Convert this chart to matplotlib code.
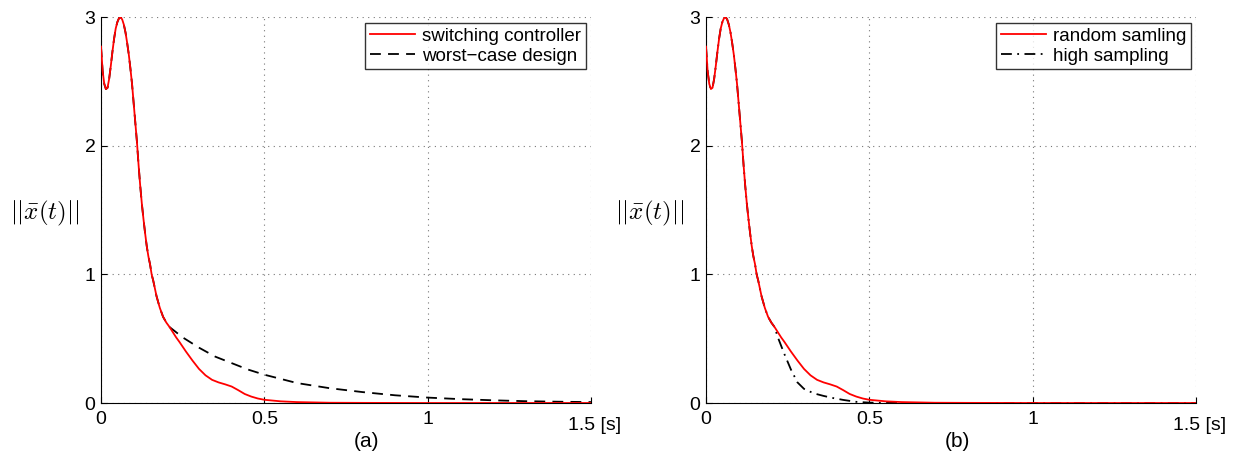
import matplotlib
matplotlib.use("Agg")
import matplotlib.pyplot as plt

plt.rcParams['font.family'] = ['Liberation Sans', 'DejaVu Sans']
plt.rcParams['mathtext.fontset'] = 'cm'

# shared initial transient
t_common = [0.0, 0.005, 0.01, 0.015, 0.02, 0.025, 0.03, 0.035, 0.04, 0.045, 0.05, 0.055,
            0.06, 0.065, 0.07, 0.075, 0.08, 0.085, 0.09, 0.095, 0.10, 0.105, 0.11, 0.115,
            0.12, 0.125, 0.13, 0.135, 0.14, 0.145, 0.15, 0.155, 0.16, 0.17, 0.18, 0.19,
            0.20, 0.21]
x_common = [2.77, 2.58, 2.48, 2.44, 2.45, 2.52, 2.62, 2.73, 2.83, 2.91, 2.96, 2.99,
            3.0, 2.98, 2.94, 2.88, 2.80, 2.71, 2.60, 2.48, 2.33, 2.18, 2.03, 1.85,
            1.69, 1.55, 1.43, 1.32, 1.22, 1.14, 1.08, 1.0, 0.95, 0.83, 0.74, 0.67,
            0.625, 0.59]

# switching controller / random sampling tail
t_switch = [0.22, 0.23, 0.24, 0.26, 0.28, 0.30, 0.32, 0.34, 0.36, 0.38, 0.40, 0.42, 0.44,
            0.46, 0.48, 0.50, 0.55, 0.60, 0.70, 0.80, 1.0, 1.5]
x_switch = [0.55, 0.51, 0.475, 0.40, 0.33, 0.265, 0.215, 0.18, 0.16, 0.145, 0.128, 0.10, 0.07,
            0.05, 0.035, 0.025, 0.013, 0.007, 0.002, 0.001, 0.0, 0.0]

# worst-case design tail
t_worst = [0.25, 0.30, 0.35, 0.40, 0.45, 0.50, 0.60, 0.70, 0.80, 0.90, 1.0, 1.1,
           1.2, 1.3, 1.4, 1.5]
x_worst = [0.51, 0.43, 0.36, 0.31, 0.26, 0.22, 0.155, 0.115, 0.085, 0.06, 0.042, 0.03,
           0.021, 0.014, 0.010, 0.007]

# high sampling tail
t_high = [0.22, 0.24, 0.26, 0.28, 0.30, 0.33, 0.36, 0.39, 0.42, 0.46, 0.50, 0.60, 1.5]
x_high = [0.51, 0.38, 0.26, 0.16, 0.11, 0.075, 0.055, 0.038, 0.024, 0.009, 0.003, 0.0, 0.0]

xticks = [0, 0.5, 1, 1.5]
xticklabels = ['0', '0.5', '1', '']
yticks = [0, 1, 2, 3]

fig = plt.figure(figsize=(12.34, 4.55), dpi=100)
W, H = 1234, 455
axes_px = [(101, 591), (706, 1196)]
top, bot = 17, 403

panels = [
    dict(other_t=t_worst, other_x=x_worst, other_ls=(0, (6, 4)), red_label='switching controller',
         other_label='worst\u2212case design', cap='(a)', capx=0.541),
    dict(other_t=t_high, other_x=x_high, other_ls=(0, (6, 3, 1, 3)), red_label='random samling',
         other_label='high sampling', cap='(b)', capx=0.514),
]

for (l, r), p in zip(axes_px, panels):
    ax = fig.add_axes([l / W, (H - bot) / H, (r - l) / W, (bot - top) / H])
    ax.plot(t_common + p['other_t'], x_common + p['other_x'], color='black', lw=1.3,
            linestyle=p['other_ls'], label=p['other_label'], zorder=3)
    ax.plot(t_common + t_switch, x_common + x_switch, color='red', lw=1.3,
            label=p['red_label'], zorder=4)
    ax.set_xlim(0, 1.5)
    ax.set_ylim(0, 3)
    ax.set_xticks(xticks)
    ax.set_xticklabels(xticklabels)
    ax.set_yticks(yticks)
    ax.tick_params(direction='in', length=4, width=0.8, labelsize=14, colors='black')
    ax.tick_params(axis='x', pad=6)
    ax.tick_params(axis='y', pad=4)
    ax.spines['top'].set_visible(False)
    ax.spines['right'].set_visible(False)
    ax.grid(True, linestyle=(0, (1, 4)), color='#777777', lw=0.8)
    ax.text(0.953, -0.035, '1.5 [s]', transform=ax.transAxes, ha='left', va='top', fontsize=14)
    ax.text(p['capx'], -0.101, p['cap'], transform=ax.transAxes, ha='center', va='center',
            fontsize=15)
    ax.text(-0.114, 0.49, r'$||\bar{x}(t)||$', transform=ax.transAxes, ha='center',
            va='center', fontsize=18)
    handles, labels = ax.get_legend_handles_labels()
    leg = ax.legend(handles[::-1], labels[::-1], loc='upper right', bbox_to_anchor=(0.99, 0.985),
                    fontsize=13.5, frameon=True, fancybox=False, handlelength=2.4,
                    borderpad=0.25, labelspacing=0.15, handletextpad=0.4, borderaxespad=0.0)
    leg.get_frame().set_edgecolor('black')
    leg.get_frame().set_linewidth(1.0)

fig.savefig('out.png', dpi=100)
